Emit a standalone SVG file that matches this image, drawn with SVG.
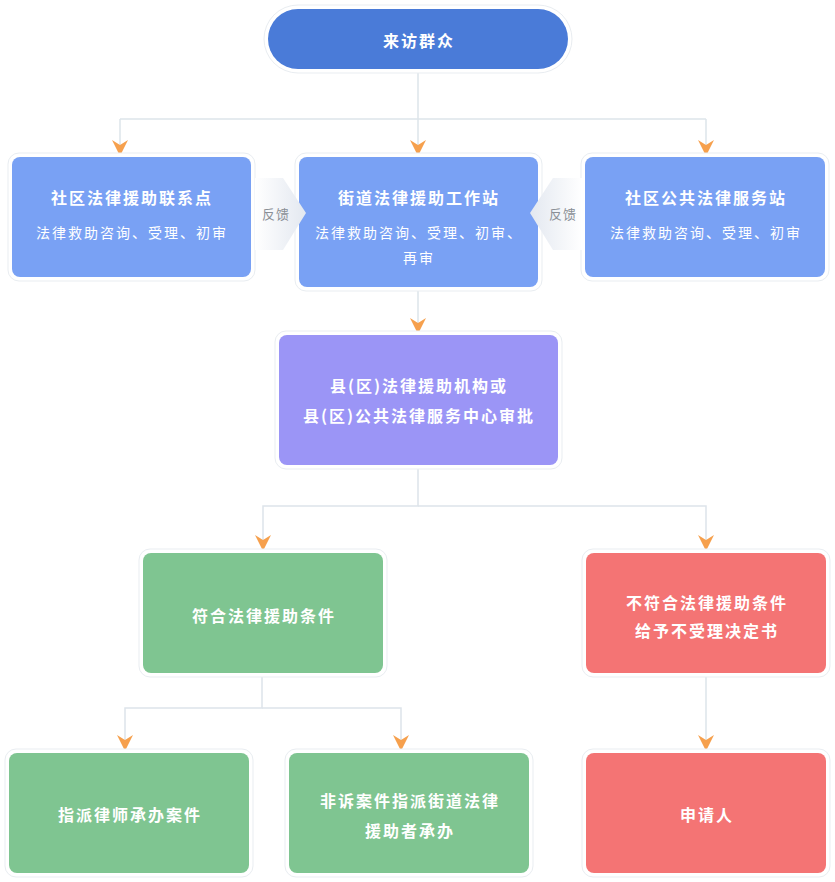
<svg xmlns="http://www.w3.org/2000/svg" width="835" height="882" viewBox="0 0 835 882">
<style>
text{font-family:"Noto Sans CJK SC","Noto Sans",sans-serif;fill:#fff;text-anchor:middle;dominant-baseline:central;letter-spacing:2px}
.t{font-size:16px;font-weight:bold}
.s{font-size:14px}
.fb{font-size:13px;fill:#8a8f96;letter-spacing:1px}
.frame{fill:#fff;stroke:#e9edf1;stroke-width:1}
.conn{fill:none;stroke:#dde4ea;stroke-width:1.5}
.blue0{fill:#4a7bd8}
.blue{fill:#79a1f4}
.purple{fill:#9b95f6}
.green{fill:#7fc591}
.red{fill:#f47474}
</style>
<defs>
<marker id="arr" viewBox="0 0 16 16" refX="16" refY="8" markerWidth="16" markerHeight="16" markerUnits="userSpaceOnUse" orient="auto">
<path d="M0,0 L16,8 L0,16 L5,8 z" fill="#f6a04d"/>
</marker>
<linearGradient id="gR" x1="0" x2="1" y1="0" y2="0">
<stop offset="0" stop-color="#ffffff"/>
<stop offset="1" stop-color="#e3e8f0"/>
</linearGradient>
<linearGradient id="gL" x1="0" x2="1" y1="0" y2="0">
<stop offset="0" stop-color="#e3e8f0"/>
<stop offset="1" stop-color="#ffffff"/>
</linearGradient>
</defs>

<g id="connectors">
<path class="conn" d="M418,69 V119"/>
<path class="conn" d="M120,119 H706"/>
<path class="conn" d="M120,119 V156" marker-end="url(#arr)"/>
<path class="conn" d="M418,119 V156" marker-end="url(#arr)"/>
<path class="conn" d="M706,119 V156" marker-end="url(#arr)"/>
<path class="conn" d="M418,288 V334" marker-end="url(#arr)"/>
<path class="conn" d="M418,466 V506 H263 V551" marker-end="url(#arr)"/>
<path class="conn" d="M418,506 H706 V551" marker-end="url(#arr)"/>
<path class="conn" d="M262,674 V708 H125 V751" marker-end="url(#arr)"/>
<path class="conn" d="M262,708 H401 V751" marker-end="url(#arr)"/>
<path class="conn" d="M706,674 V751" marker-end="url(#arr)"/>
</g>

<g id="n_visitor">
<rect class="frame" x="264" y="5" width="308" height="68" rx="34"/>
<rect class="blue0" x="268" y="9" width="300" height="60" rx="30"/>
<text class="t" x="419" y="40">来访群众</text>
</g>

<g id="n_community_point">
<rect class="frame" x="8" y="153" width="247" height="128" rx="11"/>
<rect class="blue" x="12" y="157" width="239" height="120" rx="8"/>
<text class="t" x="132" y="197">社区法律援助联系点</text>
<text class="s" x="132" y="232">法律救助咨询、受理、初审</text>
</g>

<g id="n_street_station">
<rect class="frame" x="295" y="153" width="247" height="138" rx="11"/>
<rect class="blue" x="299" y="157" width="239" height="130" rx="8"/>
<text class="t" x="419" y="197">街道法律援助工作站</text>
<text class="s" x="419" y="232">法律救助咨询、受理、初审、</text>
<text class="s" x="419" y="257">再审</text>
</g>

<g id="n_public_station">
<rect class="frame" x="581" y="153" width="248" height="128" rx="11"/>
<rect class="blue" x="585" y="157" width="240" height="120" rx="8"/>
<text class="t" x="706" y="197">社区公共法律服务站</text>
<text class="s" x="706" y="232">法律救助咨询、受理、初审</text>
</g>

<g id="fb_left">
<polygon points="255,178 283,178 306,213 283,250 255,250" fill="url(#gR)"/>
<text class="fb" x="276" y="213">反馈</text>
</g>

<g id="fb_right">
<polygon points="530,213 553,178 582,178 582,250 553,250" fill="url(#gL)"/>
<text class="fb" x="563" y="213">反馈</text>
</g>

<g id="n_county">
<rect class="frame" x="275" y="331" width="287" height="138" rx="11"/>
<rect class="purple" x="279" y="335" width="279" height="130" rx="8"/>
<text class="t" x="419" y="385">县(区)法律援助机构或</text>
<text class="t" x="419" y="415">县(区)公共法律服务中心审批</text>
</g>

<g id="n_eligible">
<rect class="frame" x="139" y="549" width="248" height="128" rx="11"/>
<rect class="green" x="143" y="553" width="240" height="120" rx="8"/>
<text class="t" x="264" y="615">符合法律援助条件</text>
</g>

<g id="n_ineligible">
<rect class="frame" x="582" y="549" width="248" height="128" rx="11"/>
<rect class="red" x="586" y="553" width="240" height="120" rx="8"/>
<text class="t" x="707" y="602">不符合法律援助条件</text>
<text class="t" x="707" y="630">给予不受理决定书</text>
</g>

<g id="n_lawyer">
<rect class="frame" x="5" y="749" width="248" height="128" rx="11"/>
<rect class="green" x="9" y="753" width="240" height="120" rx="8"/>
<text class="t" x="130" y="814">指派律师承办案件</text>
</g>

<g id="n_nonlit">
<rect class="frame" x="285" y="749" width="248" height="128" rx="11"/>
<rect class="green" x="289" y="753" width="240" height="120" rx="8"/>
<text class="t" x="410" y="800">非诉案件指派街道法律</text>
<text class="t" x="410" y="830">援助者承办</text>
</g>

<g id="n_applicant">
<rect class="frame" x="582" y="749" width="248" height="128" rx="11"/>
<rect class="red" x="586" y="753" width="240" height="120" rx="8"/>
<text class="t" x="707" y="814">申请人</text>
</g>
</svg>
